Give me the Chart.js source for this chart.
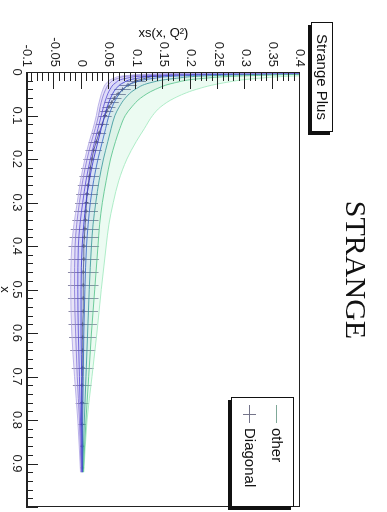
<!DOCTYPE html>
<html>
<head>
<meta charset="utf-8">
<title>Strange</title>
<script src="https://cdn.jsdelivr.net/npm/chart.js@4.4.1/dist/chart.umd.min.js"></script>
<style>
    html, body { margin: 0; padding: 0; background: #fff; overflow: hidden; }
    /* the canvas is laid out landscape and turned a quarter clockwise */
    #page {
        position: absolute; left: 0; top: 0;
        width: 512px; height: 387px;
        transform-origin: 0 0;
        transform: translate(387px, 0) rotate(90deg);
        background: #fff;
    }
</style>
</head>
<body>
<div id="page"><canvas id="strangeChart" width="512" height="387"></canvas></div>
<script>
// x grid shared by the replica curves
const replicaX = [0.001, 0.004, 0.008, 0.015, 0.025, 0.04, 0.06, 0.08, 0.1, 0.13, 0.16, 0.2, 0.25, 0.3, 0.35, 0.4, 0.5, 0.6, 0.7, 0.8, 0.92];

// replica curves, lowest to highest
const rep1 = [0.45, 0.16, 0.085, 0.058, 0.046, 0.039, 0.034, 0.030, 0.027, 0.021, 0.014, 0.006, -0.002, -0.008, -0.014, -0.018, -0.020, -0.018, -0.013, -0.007, -0.002];
const rep2 = [0.55, 0.20, 0.100, 0.066, 0.052, 0.044, 0.038, 0.034, 0.031, 0.025, 0.018, 0.010, 0.002, -0.004, -0.009, -0.012, -0.013, -0.011, -0.008, -0.004, -0.001];
const rep3 = [0.62, 0.25, 0.130, 0.080, 0.062, 0.052, 0.045, 0.040, 0.036, 0.030, 0.024, 0.016, 0.008, 0.002, -0.003, -0.006, -0.007, -0.006, -0.004, -0.002, 0.000];
const rep4 = [0.70, 0.30, 0.160, 0.100, 0.076, 0.062, 0.053, 0.047, 0.042, 0.036, 0.030, 0.022, 0.014, 0.008, 0.004, 0.001, -0.001, -0.001, 0.000, 0.000, 0.001];
const rep5 = [0.78, 0.36, 0.200, 0.130, 0.095, 0.076, 0.064, 0.056, 0.050, 0.044, 0.038, 0.030, 0.022, 0.016, 0.012, 0.009, 0.006, 0.004, 0.003, 0.002, 0.001];
const rep6 = [0.85, 0.42, 0.250, 0.170, 0.125, 0.098, 0.080, 0.069, 0.061, 0.054, 0.048, 0.040, 0.032, 0.026, 0.021, 0.018, 0.014, 0.011, 0.008, 0.005, 0.002];
const rep7 = [0.92, 0.50, 0.320, 0.220, 0.170, 0.135, 0.108, 0.092, 0.080, 0.070, 0.062, 0.053, 0.045, 0.038, 0.033, 0.030, 0.024, 0.018, 0.013, 0.008, 0.003];
const rep8 = [1.00, 0.60, 0.420, 0.320, 0.260, 0.210, 0.170, 0.145, 0.130, 0.115, 0.100, 0.083, 0.068, 0.058, 0.050, 0.045, 0.036, 0.028, 0.019, 0.010, 0.004];
const replicas = [rep1, rep2, rep3, rep4, rep5, rep6, rep7, rep8];

// diagonal points with their errors
const diagX = [0.01, 0.02, 0.03, 0.04, 0.05, 0.06, 0.07, 0.08, 0.09, 0.10, 0.12, 0.14, 0.16, 0.18, 0.20, 0.22, 0.24, 0.26, 0.28, 0.30,
               0.32, 0.34, 0.36, 0.38, 0.40, 0.43, 0.46, 0.49, 0.52, 0.55, 0.58, 0.61, 0.64, 0.68, 0.72, 0.76, 0.81, 0.86, 0.91];
const diagY = [0.130, 0.100, 0.085, 0.075, 0.067, 0.060, 0.055, 0.050, 0.046, 0.043, 0.038, 0.032, 0.027, 0.022, 0.019, 0.016, 0.014, 0.012, 0.010, 0.009,
               0.008, 0.007, 0.006, 0.005, 0.004, 0.004, 0.003, 0.003, 0.003, 0.003, 0.002, 0.002, 0.002, 0.002, 0.001, 0.001, 0.001, 0.001, 0.001];
const diagErr = [0.020, 0.018, 0.016, 0.015, 0.014, 0.013, 0.013, 0.012, 0.012, 0.012, 0.012, 0.013, 0.014, 0.015, 0.016, 0.017, 0.018, 0.019, 0.020, 0.021,
                 0.022, 0.024, 0.026, 0.027, 0.028, 0.028, 0.028, 0.028, 0.028, 0.027, 0.026, 0.025, 0.023, 0.020, 0.017, 0.012, 0.007, 0.004, 0.002];

// axis ranges and labels
const xRange = [0, 1];
const yRange = [-0.1, 0.4];
const xStep = 0.1;
const yStep = 0.05;
const chartTitle = 'STRANGE';
const boxTitle = 'Strange Plus';
const xTitle = 'x';
const yTitle = 'xs(x, Q²)';
const legendLabels = ['other', 'Diagonal'];

const palette = ['#b2a8e6', '#8a7ad8', '#5e50d6', '#3b3bd0', '#3a6ac4', '#3c9a9c', '#58c48c', '#a2eac0'];
const FONT = '"Liberation Sans", Arial, sans-serif';

function withAlpha(hex, a) {
    const n = parseInt(hex.slice(1), 16);
    return `rgba(${(n >> 16) & 255}, ${(n >> 8) & 255}, ${n & 255}, ${a})`;
}

function fmt(v) {
    return String(Number(v.toFixed(2)));
}

const replicaSets = replicas.map((vals, i) => ({
    label: legendLabels[0],
    data: replicaX.map((x, j) => ({ x: x, y: vals[j] })),
    borderColor: withAlpha(palette[i], 0.85),
    backgroundColor: withAlpha(palette[i], 0.2),
    borderWidth: 1,
    pointRadius: 0,
    cubicInterpolationMode: 'monotone',
    fill: i === 0 ? false : '-1'
}));

const diagonalSet = {
    label: legendLabels[1],
    data: diagX.map((x, i) => ({ x: x, y: diagY[i] })),
    borderColor: '#74748a',
    borderWidth: 1,
    pointStyle: 'cross',
    pointRadius: 2,
    pointBorderColor: '#606070',
    pointBorderWidth: 1,
    fill: false,
    tension: 0
};
const DIAG_INDEX = replicaSets.length;

// vertical error bars under the diagonal points
const errorBars = {
    id: 'errorBars',
    beforeDatasetDraw(chart, args) {
        if (args.index !== DIAG_INDEX) return;
        const { ctx, scales: { x, y }, chartArea } = chart;
        ctx.save();
        ctx.beginPath();
        ctx.rect(chartArea.left, chartArea.top, chartArea.width, chartArea.height);
        ctx.clip();
        ctx.strokeStyle = 'rgba(120, 118, 150, 0.85)';
        ctx.lineWidth = 1;
        diagX.forEach((xv, i) => {
            const px = Math.round(x.getPixelForValue(xv)) + 0.5;
            ctx.beginPath();
            ctx.moveTo(px, y.getPixelForValue(diagY[i] - diagErr[i]));
            ctx.lineTo(px, y.getPixelForValue(diagY[i] + diagErr[i]));
            ctx.stroke();
        });
        ctx.restore();
    }
};

// frame plus inward major/minor ticks
const frameTicks = {
    id: 'frameTicks',
    afterDatasetsDraw(chart) {
        const { ctx, chartArea: a, scales: { x, y } } = chart;
        ctx.save();
        ctx.strokeStyle = '#222';
        ctx.lineWidth = 1;
        ctx.strokeRect(a.left + 0.5, a.top + 0.5, a.width - 1, a.height - 1);

        const drawTicks = (scale, step, subdiv, major, minor, horizontal) => {
            const vals = scale.ticks.map(t => t.value);
            ctx.beginPath();
            vals.forEach((v, k) => {
                for (let s = 0; s < subdiv; s++) {
                    const tv = v + s * step / subdiv;
                    if (tv > scale.max + 1e-9) break;
                    if (s > 0 && k === vals.length - 1) break;
                    const len = s === 0 ? major : minor;
                    const p = Math.round(scale.getPixelForValue(tv)) + 0.5;
                    if (horizontal) {
                        ctx.moveTo(p, a.bottom);
                        ctx.lineTo(p, a.bottom - len);
                    } else {
                        ctx.moveTo(a.left, p);
                        ctx.lineTo(a.left + len, p);
                    }
                }
            });
            ctx.stroke();
        };
        drawTicks(x, xStep, 5, 11, 6, true);
        drawTicks(y, yStep, 5, 17, 9, false);
        ctx.restore();
    }
};

function shadowBox(ctx, x0, y0, w, h) {
    ctx.fillStyle = '#111';
    ctx.fillRect(x0 + 3, y0 + 3, w, h);
    ctx.fillStyle = '#fff';
    ctx.fillRect(x0, y0, w, h);
    ctx.strokeStyle = '#111';
    ctx.lineWidth = 1;
    ctx.strokeRect(x0 + 0.5, y0 + 0.5, w - 1, h - 1);
}

// title, pave text, legend and axis titles
const annotations = {
    id: 'annotations',
    afterDraw(chart) {
        const { ctx, chartArea: a } = chart;
        ctx.save();

        ctx.fillStyle = '#111';
        ctx.font = '30px "Liberation Serif", "Times New Roman", serif';
        ctx.textAlign = 'center';
        ctx.textBaseline = 'middle';
        ctx.fillText(chartTitle, 270, 33);

        shadowBox(ctx, 22, 54, 110, 22);
        ctx.fillStyle = '#111';
        ctx.font = '15px ' + FONT;
        ctx.fillText(boxTitle, 77, 66);

        // legend
        const lx = 397, ly = 93, lw = 110, lh = 63;
        shadowBox(ctx, lx, ly, lw, lh);
        ctx.strokeStyle = '#7fa898';
        ctx.beginPath();
        ctx.moveTo(lx + 8, ly + 17.5);
        ctx.lineTo(lx + 26, ly + 17.5);
        ctx.stroke();
        ctx.strokeStyle = '#74748a';
        ctx.beginPath();
        ctx.moveTo(lx + 8, ly + 44.5);
        ctx.lineTo(lx + 26, ly + 44.5);
        ctx.moveTo(lx + 17.5, ly + 38);
        ctx.lineTo(lx + 17.5, ly + 51);
        ctx.stroke();
        ctx.fillStyle = '#111';
        ctx.font = '15px ' + FONT;
        ctx.textAlign = 'left';
        ctx.fillText(legendLabels[0], lx + 31, ly + 18);
        ctx.fillText(legendLabels[1], lx + 31, ly + 45);

        // axis titles
        ctx.font = '13px ' + FONT;
        ctx.textAlign = 'center';
        ctx.fillText(xTitle, (a.left + a.right) / 2, 382);
        ctx.translate(33, (a.top + a.bottom) / 2);
        ctx.rotate(-Math.PI / 2);
        ctx.fillText(yTitle, 0, 0);

        ctx.restore();
    }
};

const tickFont = { family: FONT, size: 13 };

new Chart(document.getElementById('strangeChart'), {
    type: 'line',
    data: { datasets: [...replicaSets, diagonalSet] },
    options: {
        responsive: false,
        animation: false,
        events: [],
        layout: { padding: { left: 32, right: 2, top: 87, bottom: 0 } },
        plugins: {
            legend: { display: false },
            tooltip: { enabled: false },
            title: { display: false }
        },
        scales: {
            x: {
                type: 'linear',
                min: xRange[0],
                max: xRange[1],
                grid: { display: false, drawTicks: false },
                border: { display: true, color: '#222' },
                ticks: {
                    stepSize: xStep,
                    autoSkip: false,
                    maxRotation: 0,
                    padding: 3,
                    color: '#222',
                    font: tickFont,
                    callback: v => (v >= xRange[1] - 1e-9 ? '' : fmt(v))
                },
                afterFit: s => { s.height = 27; }
            },
            y: {
                type: 'linear',
                min: yRange[0],
                max: yRange[1],
                grid: { display: false, drawTicks: false },
                border: { display: true, color: '#222' },
                ticks: {
                    stepSize: yStep,
                    autoSkip: false,
                    padding: 5,
                    color: '#222',
                    font: tickFont,
                    callback: v => fmt(v)
                },
                afterFit: s => { s.width = 40; }
            }
        }
    },
    plugins: [errorBars, frameTicks, annotations]
});
</script>
</body>
</html>
